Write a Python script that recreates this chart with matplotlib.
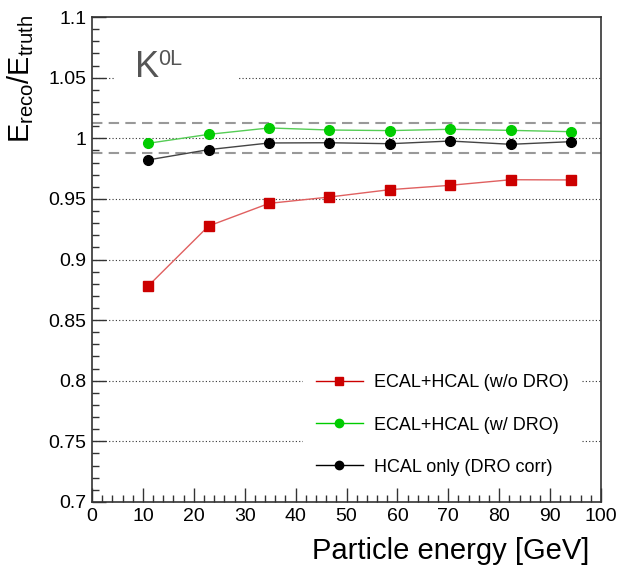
import matplotlib
matplotlib.use("Agg")
import matplotlib.pyplot as plt
import matplotlib.lines as mlines
from matplotlib.patches import Rectangle
from matplotlib.ticker import MultipleLocator

plt.rcParams["font.family"] = ["Liberation Sans", "DejaVu Sans"]
plt.rcParams["mathtext.fontset"] = "custom"
plt.rcParams["mathtext.rm"] = "Liberation Sans"
plt.rcParams["mathtext.it"] = "Liberation Sans"

# Beam energies [GeV]
energy = [11.0, 22.9, 34.8, 46.6, 58.5, 70.4, 82.3, 94.2]

# Response E_reco / E_truth
ecal_hcal_no_dro = [0.878, 0.9276, 0.9463, 0.9515, 0.9576, 0.9612, 0.9658, 0.9656]
ecal_hcal_dro = [0.9958, 1.0032, 1.0085, 1.0068, 1.0063, 1.0074, 1.0065, 1.0054]
hcal_only_dro = [0.9821, 0.9906, 0.9961, 0.9963, 0.9955, 0.9977, 0.9950, 0.9972]

series_labels = ["ECAL+HCAL (w/o DRO)", "ECAL+HCAL (w/ DRO)", "HCAL only (DRO corr)"]
band = [0.9875, 1.0125]
grid_levels = [0.75, 0.80, 0.85, 0.90, 0.95, 1.00, 1.05]
ytick_values = [0.7, 0.75, 0.8, 0.85, 0.9, 0.95, 1.0, 1.05, 1.1]
ytick_labels = ["0.7", "0.75", "0.8", "0.85", "0.9", "0.95", "1", "1.05", "1.1"]

W, H = 621, 567
fig = plt.figure(figsize=(W / 100, H / 100), dpi=100)
ax = fig.add_axes([92 / W, 1 - 502 / H, 509 / W, 485 / H])
ax.set_xlim(0, 100)
ax.set_ylim(0.7, 1.1)

for g in grid_levels:
    ax.axhline(g, color="#333333", lw=0.8, ls=(0, (1, 2)), zorder=0)

# blank area behind the particle label
ax.add_patch(Rectangle((4.5, 1.035), 24.0, 0.03, facecolor="white",
                       edgecolor="none", zorder=0.5))

for b in band:
    ax.axhline(b, color="#999999", lw=1.5, ls=(0, (5, 3)), zorder=1)

ax.plot(energy, ecal_hcal_no_dro, color="#e06060", lw=1.0, marker="s",
        ms=7.5, mfc="#cc0000", mec="#cc0000", zorder=3)
ax.plot(energy, ecal_hcal_dro, color="#55cc55", lw=1.0, marker="o",
        ms=7, mfc="#00cc00", mec="#00cc00", zorder=3)
ax.plot(energy, hcal_only_dro, color="#444444", lw=1.0, marker="o",
        ms=7, mfc="black", mec="black", zorder=3)

# legend handles with smaller markers
h1 = mlines.Line2D([], [], color="#cc0000", lw=1.0, marker="s", ms=6, mfc="#cc0000", mec="#cc0000")
h2 = mlines.Line2D([], [], color="#00cc00", lw=1.0, marker="o", ms=6, mfc="#00cc00", mec="#00cc00")
h3 = mlines.Line2D([], [], color="black", lw=1.0, marker="o", ms=6, mfc="black", mec="black")
leg = ax.legend([h1, h2, h3], series_labels, loc="center left",
                bbox_to_anchor=((303 - 92) / 509, (502 - 425) / 485),
                borderaxespad=0, frameon=True, fancybox=False,
                facecolor="white", edgecolor="none", framealpha=1,
                fontsize=13, handlelength=2.6, handletextpad=0.65,
                labelspacing=1.4, borderpad=0.7)
leg.set_zorder(4)

# particle label K^0L
fig.text(135 / W, 1 - 77 / H, "K", fontsize=26, color="#555555",
         ha="left", va="baseline")
fig.text(158 / W, 1 - 49 / H, "0L", fontsize=15.5, color="#555555",
         ha="left", va="top")

ax.xaxis.set_major_locator(MultipleLocator(10))
ax.xaxis.set_minor_locator(MultipleLocator(2))
ax.yaxis.set_major_locator(MultipleLocator(0.05))
ax.yaxis.set_minor_locator(MultipleLocator(0.01))
ax.tick_params(which="both", direction="in", top=False, right=False,
               color="#333333", width=1.0)
ax.tick_params(which="major", length=10, labelsize=14, pad=4)
ax.tick_params(which="minor", length=5)
ax.set_yticks(ytick_values)
ax.set_yticklabels(ytick_labels)

for s in ax.spines.values():
    s.set_color("#333333")
    s.set_linewidth(1.2)

fig.text(589 / W, 1 - 559 / H, "Particle energy [GeV]", fontsize=21,
         ha="right", va="baseline")
fig.text(29.5 / W, 1 - 15 / H, r"E$_{\mathregular{reco}}$/E$_{\mathregular{truth}}$",
         fontsize=20.8, rotation=90, rotation_mode="anchor",
         ha="right", va="baseline")

fig.savefig("out.png", dpi=100, facecolor="white")
